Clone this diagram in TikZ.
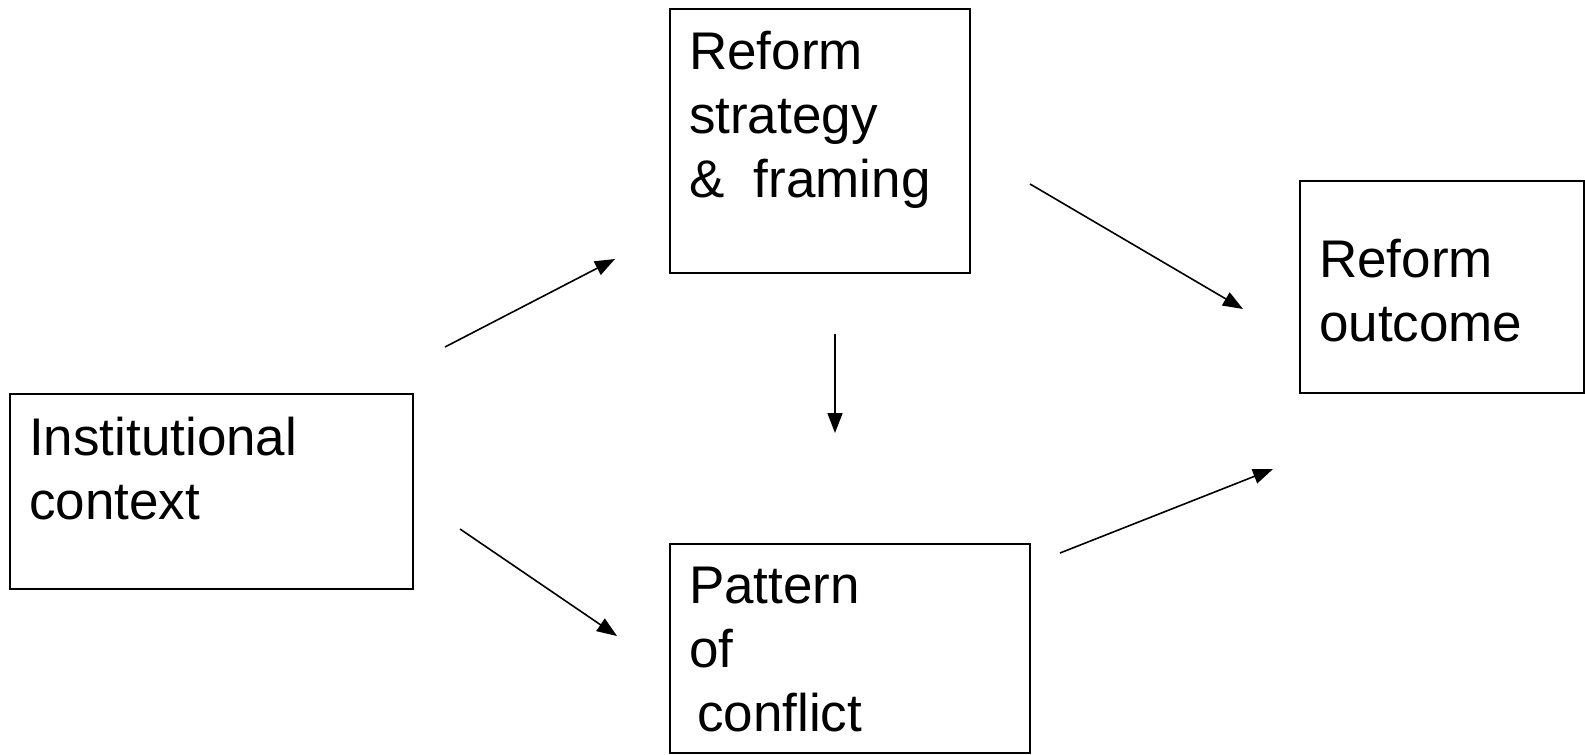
\documentclass[tikz,border=0pt]{standalone}
\usepackage{fontspec}
\setmainfont{Liberation Sans}
\usetikzlibrary{calc,positioning,arrows.meta}
\begin{document}
\begin{tikzpicture}[x=1pt,y=-1pt,
box/.style={draw,line width=2.2pt,inner sep=0pt},
lbl/.style={anchor=base west,inner sep=0pt,align=left,font=\fontsize{53}{64}\selectfont},
arr/.style={-{Triangle[length=20pt,width=15pt]},line width=1.6pt}]
\useasboundingbox (0,0) rectangle (1585,755);
\node[box,minimum width=403pt,minimum height=195pt](ctxbox) at (211.5,491.5){};
\node[box,minimum width=300pt,minimum height=264pt](stratbox) at (820,141){};
\node[box,minimum width=360pt,minimum height=209pt](conflbox) at (850,648.5){};
\node[box,minimum width=284pt,minimum height=212pt](outcbox) at (1442,287){};
\node[lbl](ctx) at ([shift={(20,127)}]ctxbox.north west){Institutional\\context};
\node[lbl](strat) at ([shift={(20,190)}]stratbox.north west){Reform\\strategy\\\&\ \ framing};
\node[lbl](confl) at ([shift={(20,189)}]conflbox.north west){Pattern\\of\\\hspace*{8pt}conflict};
\node[lbl](outc) at ([shift={(20,162)}]outcbox.north west){Reform\\outcome};
\coordinate (a1s) at (445,347);\coordinate (a1e) at (615,259);
\coordinate (a2s) at (460,529);\coordinate (a2e) at (617,636);
\coordinate (a3s) at (835,334);\coordinate (a3e) at (835,433);
\coordinate (a4s) at (1030,184);\coordinate (a4e) at (1243,309);
\coordinate (a5s) at (1060,553);\coordinate (a5e) at (1273,469);
\draw[arr](a1s)--(a1e);\draw[arr](a2s)--(a2e);\draw[arr](a3s)--(a3e);
\draw[arr](a4s)--(a4e);\draw[arr](a5s)--(a5e);
\end{tikzpicture}
\end{document}
